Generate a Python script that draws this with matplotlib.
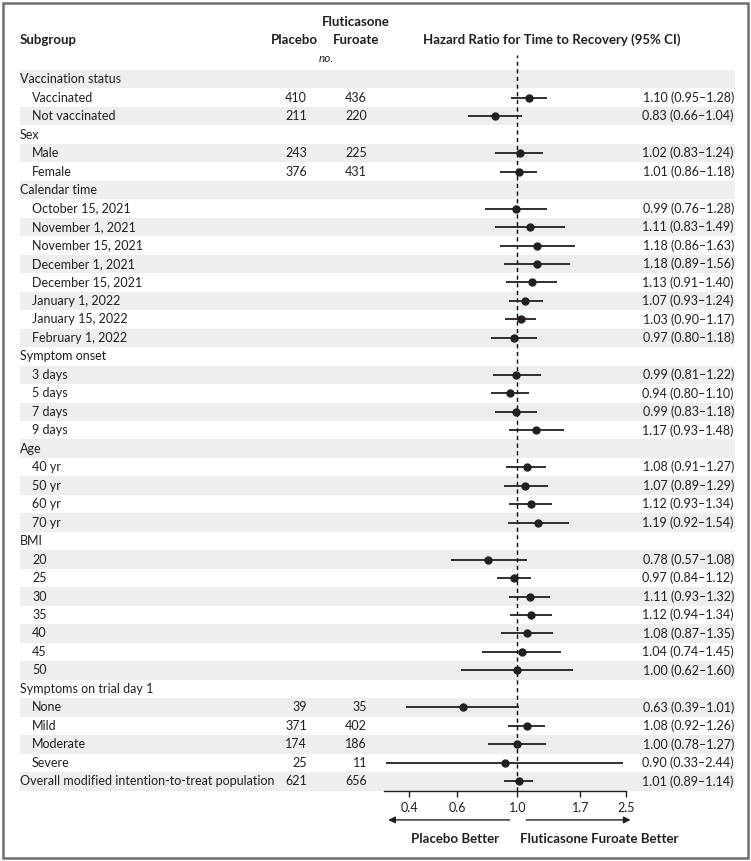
import matplotlib.pyplot as plt
import numpy as np
from matplotlib.patches import Rectangle

plt.rcParams['font.family'] = ['Lato', 'DejaVu Sans']

# rows of the forest plot, top to bottom
labels = ["Vaccination status", "Vaccinated", "Not vaccinated",
          "Sex", "Male", "Female",
          "Calendar time", "October 15, 2021", "November 1, 2021", "November 15, 2021",
          "December 1, 2021", "December 15, 2021", "January 1, 2022", "January 15, 2022",
          "February 1, 2022",
          "Symptom onset", "3 days", "5 days", "7 days", "9 days",
          "Age", "40 yr", "50 yr", "60 yr", "70 yr",
          "BMI", "20", "25", "30", "35", "40", "45", "50",
          "Symptoms on trial day 1", "None", "Mild", "Moderate", "Severe",
          "Overall modified intention-to-treat population"]
indent = [0, 1, 1, 0, 1, 1, 0, 1, 1, 1, 1, 1, 1, 1, 1, 0, 1, 1, 1, 1,
          0, 1, 1, 1, 1, 0, 1, 1, 1, 1, 1, 1, 1, 0, 1, 1, 1, 1, 0]

placebo_n = {"Vaccinated": 410, "Not vaccinated": 211, "Male": 243, "Female": 376,
             "None": 39, "Mild": 371, "Moderate": 174, "Severe": 25,
             "Overall modified intention-to-treat population": 621}
fluticasone_n = {"Vaccinated": 436, "Not vaccinated": 220, "Male": 225, "Female": 431,
                 "None": 35, "Mild": 402, "Moderate": 186, "Severe": 11,
                 "Overall modified intention-to-treat population": 656}

nan = np.nan
hr = [nan, 1.10, 0.83, nan, 1.02, 1.01, nan, 0.99, 1.11, 1.18, 1.18, 1.13, 1.07, 1.03, 0.97,
      nan, 0.99, 0.94, 0.99, 1.17, nan, 1.08, 1.07, 1.12, 1.19,
      nan, 0.78, 0.97, 1.11, 1.12, 1.08, 1.04, 1.00, nan, 0.63, 1.08, 1.00, 0.90, 1.01]
ci_low = [nan, 0.95, 0.66, nan, 0.83, 0.86, nan, 0.76, 0.83, 0.86, 0.89, 0.91, 0.93, 0.90, 0.80,
          nan, 0.81, 0.80, 0.83, 0.93, nan, 0.91, 0.89, 0.93, 0.92,
          nan, 0.57, 0.84, 0.93, 0.94, 0.87, 0.74, 0.62, nan, 0.39, 0.92, 0.78, 0.33, 0.89]
ci_high = [nan, 1.28, 1.04, nan, 1.24, 1.18, nan, 1.28, 1.49, 1.63, 1.56, 1.40, 1.24, 1.17, 1.18,
           nan, 1.22, 1.10, 1.18, 1.48, nan, 1.27, 1.29, 1.34, 1.54,
           nan, 1.08, 1.12, 1.32, 1.34, 1.35, 1.45, 1.60, nan, 1.01, 1.26, 1.27, 2.44, 1.14]

xticks = [0.4, 0.6, 1.0, 1.7, 2.5]
xtick_labels = ["0.4", "0.6", "1.0", "1.7", "2.5"]

W, H = 751, 861
txt = '#231f20'
shade = '#eeeeee'
fs = 9.0      # body text
hfs = 9.5     # header text

fig = plt.figure(figsize=(W / 100, H / 100), dpi=100)


def fx(x):
    return x / W


def fy(y):
    return 1 - y / H


n = len(labels)
rows = np.arange(n)
top_px, bot_px = 70, 790.5
row_h = (bot_px - top_px) / n

# background table axes (x in pixels)
tab = fig.add_axes([fx(20), fy(bot_px), fx(735 - 20), (bot_px - top_px) / H])
tab.set_xlim(20, 735)
tab.set_ylim(n - 0.5, -0.5)
tab.axis('off')
for i in rows[::2]:
    tab.axhspan(i - 0.5, i + 0.5, color=shade, lw=0)

for i, lab in enumerate(labels):
    tab.text(20 + 12 * indent[i], i, lab, va='center', ha='left', fontsize=fs, color=txt)
    if lab in placebo_n:
        tab.text(307, i, str(placebo_n[lab]), va='center', ha='right', fontsize=fs, color=txt)
        tab.text(367, i, str(fluticasone_n[lab]), va='center', ha='right', fontsize=fs, color=txt)
    if not np.isnan(hr[i]):
        tab.text(734, i, f"{hr[i]:.2f} ({ci_low[i]:.2f}\u2013{ci_high[i]:.2f})",
                 va='center', ha='right', fontsize=fs, color=txt)

# forest axes
ext = 0.8
ax = fig.add_axes([fx(384), fy(bot_px), fx(626 - 384), (bot_px - top_px + ext * row_h) / H])
ax.patch.set_alpha(0)
ax.set_xscale('log')
ax.set_xlim(0.324, 2.5)
ax.set_ylim(n - 0.5, -0.5 - ext)
for s in ['left', 'right', 'top']:
    ax.spines[s].set_visible(False)
ax.spines['bottom'].set_color(txt)
ax.spines['bottom'].set_linewidth(1.0)
ax.set_yticks([])
ax.minorticks_off()
ax.set_xticks(xticks)
ax.set_xticklabels(xtick_labels)
ax.tick_params(axis='x', length=4, width=1.0, color=txt, labelsize=fs, labelcolor=txt, pad=4)

ax.axvline(1.0, color='black', lw=1.0, ls=(0, (3, 2.5)), zorder=1)
ax.hlines(rows, ci_low, ci_high, color=txt, lw=1.3, zorder=2)
ax.plot(hr, rows, 'o', color=txt, ms=5, zorder=3)

# direction arrows
tr = ax.get_xaxis_transform()
ax.annotate('', xy=(0.328, -0.040), xytext=(0.958, -0.040), xycoords=tr, textcoords=tr,
            arrowprops=dict(arrowstyle='-|>', color=txt, lw=1.0, mutation_scale=10), annotation_clip=False)
ax.annotate('', xy=(2.66, -0.040), xytext=(1.052, -0.040), xycoords=tr, textcoords=tr,
            arrowprops=dict(arrowstyle='-|>', color=txt, lw=1.0, mutation_scale=10), annotation_clip=False)

# headers
fig.text(fx(20), fy(40), "Subgroup", fontsize=hfs, fontweight='bold', va='center', ha='left', color=txt)
fig.text(fx(318), fy(40), "Placebo", fontsize=hfs, fontweight='bold', va='center', ha='right', color=txt)
fig.text(fx(356), fy(22), "Fluticasone", fontsize=hfs, fontweight='bold', va='center', ha='center', color=txt)
fig.text(fx(356), fy(40), "Furoate", fontsize=hfs, fontweight='bold', va='center', ha='center', color=txt)
fig.text(fx(326), fy(58), "no.", fontsize=fs - 0.5, style='italic', va='center', ha='center', color=txt)
fig.text(fx(552), fy(40), "Hazard Ratio for Time to Recovery (95% CI)", fontsize=hfs,
         fontweight='bold', va='center', ha='center', color=txt)
fig.text(fx(455), fy(839), "Placebo Better", fontsize=hfs, fontweight='bold', va='center', ha='center', color=txt)
fig.text(fx(599), fy(839), "Fluticasone Furoate Better", fontsize=hfs, fontweight='bold',
         va='center', ha='center', color=txt)

# outer frame
fig.patches.append(Rectangle((fx(3), fy(858)), fx(745), 855 / H, transform=fig.transFigure,
                             fill=False, edgecolor='#6d6e70', lw=1.8))

fig.savefig('out.png', dpi=100)
